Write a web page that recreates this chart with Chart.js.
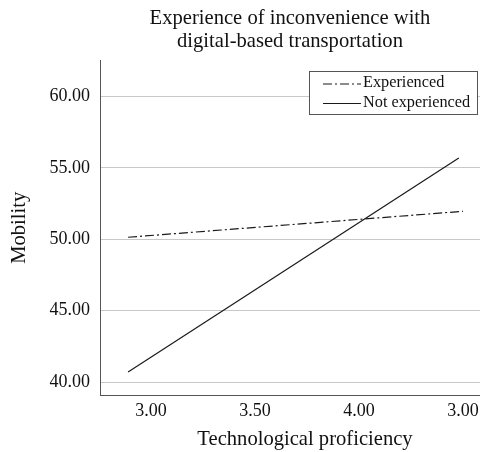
<!DOCTYPE html>
<html><head><meta charset="utf-8">
<script src="https://cdn.jsdelivr.net/npm/chart.js@4.4.0/dist/chart.umd.min.js"></script>
<style>html,body{margin:0;padding:0;background:#fff;overflow:hidden;} #wrap{width:480px;height:452px;overflow:hidden;position:relative;} #c{position:absolute;left:0;top:0;}</style>
</head><body><div id="wrap"><canvas id="c" width="510" height="452"></canvas></div>
<script>
const chartTitle = ['Experience of inconvenience with', 'digital-based transportation'];
const xAxisTitle = 'Technological proficiency';
const yAxisTitle = 'Mobility';
const seriesNames = ['Experienced', 'Not experienced'];
const experiencedX = [2.89, 4.50];
const experiencedY = [50.14, 51.96];
const notExperiencedX = [2.89, 4.48];
const notExperiencedY = [40.70, 55.70];
const xTickValues = [3.0, 3.5, 4.0, 4.5];
const xTickLabels = ['3.00', '3.50', '4.00', '3.00'];
const yTickValues = [40, 45, 50, 55, 60];
const yTickLabels = ['40.00', '45.00', '50.00', '55.00', '60.00'];

const SERIF = '"Liberation Serif", "Times New Roman", serif';
const TEXT = '#111111';

const toPoints = (xs, ys) => xs.map((x, i) => ({x: x, y: ys[i]}));

const boxLegend = {
  id: 'boxLegend',
  afterDatasetsDraw(chart) {
    const ctx = chart.ctx;
    const bx = 309.5, by = 71.5, bw = 168, bh = 43;
    ctx.save();
    ctx.fillStyle = '#ffffff';
    ctx.fillRect(bx, by, bw, bh);
    ctx.strokeStyle = '#555555';
    ctx.lineWidth = 1;
    ctx.setLineDash([]);
    ctx.strokeRect(bx, by, bw, bh);
    chart.data.datasets.forEach((ds, i) => {
      const y = 84 + i * 19.5;
      ctx.beginPath();
      ctx.setLineDash(ds.borderDash || []);
      ctx.strokeStyle = ds.borderColor;
      ctx.lineWidth = ds.borderWidth;
      ctx.moveTo(323, y);
      ctx.lineTo(361, y);
      ctx.stroke();
      ctx.setLineDash([]);
      ctx.fillStyle = TEXT;
      ctx.font = '16.3px ' + SERIF;
      ctx.textBaseline = 'middle';
      ctx.textAlign = 'left';
      ctx.fillText(ds.label, 363, y - 1);
    });
    ctx.restore();
  }
};

new Chart(document.getElementById('c'), {
  type: 'line',
  data: {
    datasets: [
      {label: seriesNames[0], data: toPoints(experiencedX, experiencedY), borderColor: '#1a1a1a', borderWidth: 1.2, borderDash: [9, 3, 2, 3], pointRadius: 0, fill: false, tension: 0},
      {label: seriesNames[1], data: toPoints(notExperiencedX, notExperiencedY), borderColor: '#1a1a1a', borderWidth: 1.2, pointRadius: 0, fill: false, tension: 0}
    ]
  },
  plugins: [boxLegend],
  options: {
    responsive: false,
    animation: false,
    devicePixelRatio: 1,
    layout: {padding: {left: 0, right: -70, top: 0, bottom: 0}},
    plugins: {
      legend: {display: false},
      tooltip: {enabled: false},
      title: {display: true, text: chartTitle, color: TEXT,
        font: {family: SERIF, size: 20.6, weight: 'normal', lineHeight: 1.13},
        padding: {top: 7, bottom: 7}}
    },
    scales: {
      x: {
        type: 'linear', min: 2.755, max: 4.726,
        afterBuildTicks: s => { s.ticks = xTickValues.map(v => ({value: v})); },
        afterFit: s => { s.height = 57; },
        grid: {display: false, drawTicks: false},
        border: {display: true, color: '#555555', width: 1},
        ticks: {callback: v => xTickLabels[xTickValues.indexOf(v)], color: TEXT,
          font: {family: SERIF, size: 18}, padding: 5, maxRotation: 0, autoSkip: false},
        title: {display: true, text: xAxisTitle, color: TEXT, font: {family: SERIF, size: 20.6}, padding: {top: 0, bottom: 0}}
      },
      y: {
        type: 'linear', min: 39.09, max: 62.52,
        afterBuildTicks: s => { s.ticks = yTickValues.map(v => ({value: v})); },
        afterFit: s => { s.width = 100; },
        grid: {color: '#c8c8c8', lineWidth: 1, drawTicks: false},
        border: {display: true, color: '#555555', width: 1},
        ticks: {callback: v => yTickLabels[yTickValues.indexOf(v)], color: TEXT,
          font: {family: SERIF, size: 18}, padding: 10},
        title: {display: true, text: yAxisTitle, color: TEXT, font: {family: SERIF, size: 20.6}, padding: {top: 7, bottom: 0}}
      }
    }
  }
});
</script>
</body></html>
